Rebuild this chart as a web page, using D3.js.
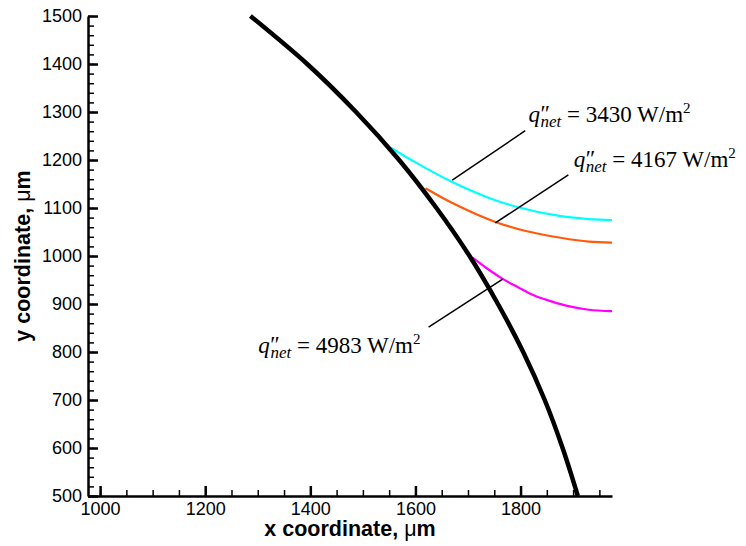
<!DOCTYPE html>
<html>
<head>
<meta charset="utf-8">
<script src="https://cdn.jsdelivr.net/npm/d3@7"></script>
<style>
  body { margin: 0; background: #fff; }
  #chart-container { width: 746px; height: 546px; }
  .tick text { font-family: "Liberation Sans", Arial, sans-serif; font-size: 18px; fill: #000; }
  .axis-title { font-family: "Liberation Sans", Arial, sans-serif; font-size: 21.5px; font-weight: bold; }
  .note { font-family: "Liberation Serif", "Times New Roman", serif; font-size: 23px; }
</style>
</head>
<body>
<div id="chart-container"></div>
<script>

// Chart values (x, y in um).
const wallPoints = [[1286, 1500], [1394, 1400], [1487, 1300], [1569, 1200], [1640, 1100], [1703, 1000], [1757, 900], [1805, 800], [1846, 700], [1880, 600], [1909, 500]];
const cyanPoints = [[1552, 1226], [1600, 1195], [1672, 1153], [1740, 1121], [1794, 1102], [1876, 1083], [1930, 1077], [1974, 1075]];
const orangePoints = [[1619, 1141], [1650, 1122], [1686, 1102], [1752, 1071], [1810, 1052], [1876, 1038], [1930, 1030], [1974, 1028]];
const magentaPoints = [[1708, 997], [1735, 975], [1762, 955], [1795, 935], [1825, 918], [1860, 905], [1889, 896], [1930, 888], [1974, 885]];

// Annotation labels.
const labelValues = ["3430", "4167", "4983"];
const labelAnchors = [[1815, 1279], [1901, 1185], [1301, 798]];
const leaderFrom = [[1670, 1158], [1752, 1069], [1766, 952]];
const leaderTo = [[1809, 1261], [1891, 1169], [1625, 852]];

// Tick values.
const xMajorTicks = [1000, 1200, 1400, 1600, 1800];
const xMinorTicks = d3.range(1000, 1951, 50);
const yMajorTicks = [500, 600, 700, 800, 900, 1000, 1100, 1200, 1300, 1400, 1500];
const yMinorTicks = d3.range(500, 1501, 20);

let margin, fWidth, fHeight, width, height, svg, canvas, xScale, yScale, lineGen;

margin = { top: 16, right: 134, bottom: 50, left: 88 };
fWidth = 746;
fHeight = 546;
width = fWidth - margin.left - margin.right;
height = fHeight - margin.top - margin.bottom;

svg = d3.select("#chart-container").append("svg")
  .attr("width", fWidth)
  .attr("height", fHeight);

canvas = svg.append("g")
  .attr("transform", `translate(${ margin.left } ${ margin.top })`);

// Scales.
xScale = d3.scaleLinear().domain([977, 1974]).range([0, width]);
yScale = d3.scaleLinear().domain([500, 1500]).range([height, 0]);

lineGen = d3.line()
  .x(d => { return xScale(d[0]); })
  .y(d => { return yScale(d[1]); })
  .curve(d3.curveMonotoneX);

// Minor ticks.
canvas.append("g")
  .attr("transform", `translate(0 ${ height })`)
  .call(d3.axisBottom(xScale).tickValues(xMinorTicks).tickSizeInner(-6).tickSizeOuter(0).tickFormat(""))
  .call(g => g.select(".domain").remove())
  .selectAll("line").attr("stroke-width", 1.5);

canvas.append("g")
  .call(d3.axisLeft(yScale).tickValues(yMinorTicks).tickSizeInner(-6).tickSizeOuter(0).tickFormat(""))
  .call(g => g.select(".domain").remove())
  .selectAll("line").attr("stroke-width", 1.5);

// Major x axis.
canvas.append("g")
  .attr("id", "x-axis")
  .attr("transform", `translate(0 ${ height })`)
  .call(d3.axisBottom(xScale).tickValues(xMajorTicks).tickFormat(d3.format("d")).tickSizeInner(-10).tickSizeOuter(0).tickPadding(6))
  .call(g => g.select(".domain").attr("stroke-width", 2.5))
  .selectAll("line").attr("stroke-width", 2.5);

// Major y axis.
canvas.append("g")
  .attr("id", "y-axis")
  .call(d3.axisLeft(yScale).tickValues(yMajorTicks).tickFormat(d3.format("d")).tickSizeInner(-10).tickSizeOuter(0).tickPadding(6))
  .call(g => g.select(".domain").attr("stroke-width", 2.5))
  .selectAll("line").attr("stroke-width", 2.5);

// Heat flux curves.
const curves = [
  { pts: cyanPoints, color: "#00ffff" },
  { pts: orangePoints, color: "#ff5a0a" },
  { pts: magentaPoints, color: "#ff00ff" }
];

canvas.selectAll(".flux-line")
  .data(curves)
  .enter()
  .append("path")
    .classed("flux-line", true)
    .attr("d", d => { return lineGen(d.pts); })
    .attr("fill", "none")
    .attr("stroke", d => { return d.color; })
    .attr("stroke-width", 2.2);

// Wall profile.
canvas.append("path")
  .attr("d", d3.line()
    .x(d => { return xScale(d[0]); })
    .y(d => { return yScale(d[1]); })
    .curve(d3.curveMonotoneY)(wallPoints))
  .attr("fill", "none")
  .attr("stroke", "#000")
  .attr("stroke-width", 4.5);

// Leader lines.
canvas.selectAll(".leader")
  .data(labelValues)
  .enter()
  .append("line")
    .classed("leader", true)
    .attr("x1", (d, i) => { return xScale(leaderFrom[i][0]); })
    .attr("y1", (d, i) => { return yScale(leaderFrom[i][1]); })
    .attr("x2", (d, i) => { return xScale(leaderTo[i][0]); })
    .attr("y2", (d, i) => { return yScale(leaderTo[i][1]); })
    .attr("stroke", "#000")
    .attr("stroke-width", 1.5);

// Labels.
canvas.selectAll(".note")
  .data(labelValues)
  .enter()
  .append("text")
    .classed("note", true)
    .attr("x", (d, i) => { return xScale(labelAnchors[i][0]); })
    .attr("y", (d, i) => { return yScale(labelAnchors[i][1]); })
    .attr("xml:space", "preserve")
    .each(function(d) {
      let t = d3.select(this);
      t.append("tspan").attr("font-style", "italic").text("q");
      t.append("tspan").attr("font-style", "italic").attr("dx", -1).attr("dy", -1).text("\u2033");
      t.append("tspan").attr("font-style", "italic").attr("font-size", 17).attr("dx", -8).attr("dy", 6).text("net");
      t.append("tspan").attr("dy", -5).text(` = ${ d } W/m`);
      t.append("tspan").attr("font-size", 15).attr("dy", -9).text("2");
    });

// Axis titles.
function addTitle(sel, label) {
  sel.text(label);
  sel.append("tspan").attr("font-weight", "normal").text("\u03bc");
  sel.append("tspan").text("m");
}

svg.append("text")
  .classed("axis-title", true)
  .attr("x", margin.left + width / 2)
  .attr("y", 536)
  .attr("text-anchor", "middle")
  .call(addTitle, "x coordinate, ");

svg.append("text")
  .classed("axis-title", true)
  .attr("transform", `translate(30 ${ margin.top + height / 2 }) rotate(-90)`)
  .attr("text-anchor", "middle")
  .call(addTitle, "y coordinate, ");

</script>
</body>
</html>
